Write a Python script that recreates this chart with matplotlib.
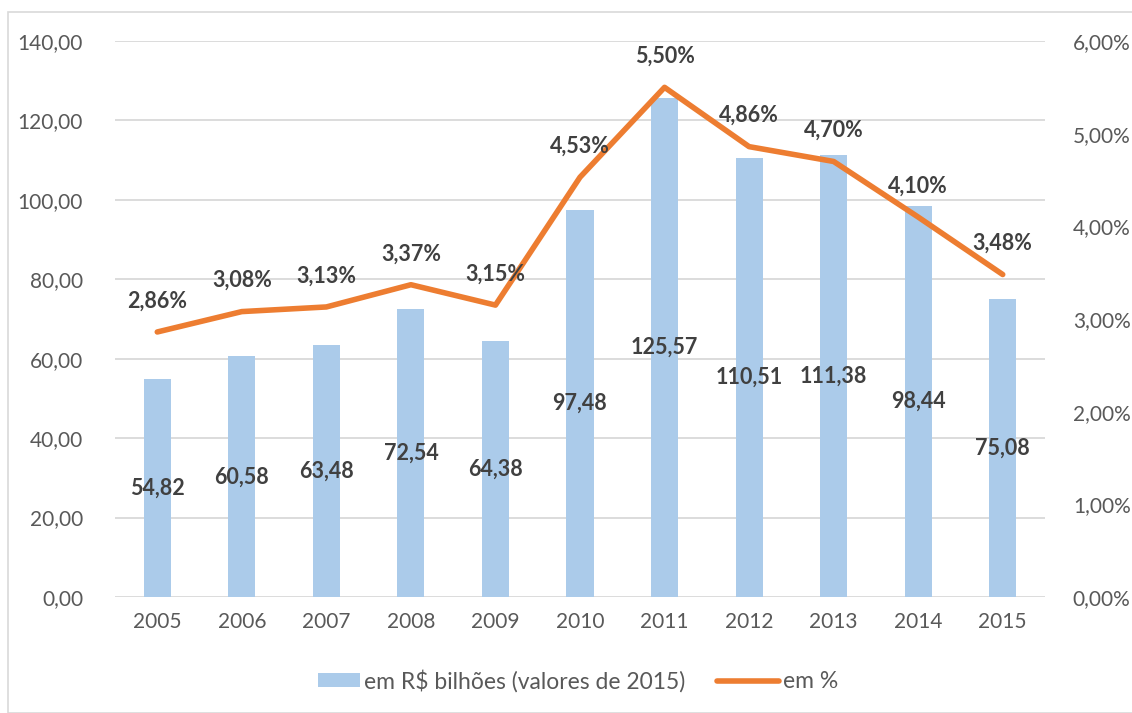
import matplotlib
matplotlib.use("Agg")
import matplotlib.pyplot as plt
from matplotlib.patches import Rectangle
from matplotlib.lines import Line2D
from matplotlib.patches import Patch
from matplotlib.legend_handler import HandlerPatch

years = ["2005", "2006", "2007", "2008", "2009", "2010", "2011", "2012", "2013", "2014", "2015"]
valores_bi = [54.82, 60.58, 63.48, 72.54, 64.38, 97.48, 125.57, 110.51, 111.38, 98.44, 75.08]
percentual = [2.86, 3.08, 3.13, 3.37, 3.15, 4.53, 5.50, 4.86, 4.70, 4.10, 3.48]

left_ticks = [0, 20, 40, 60, 80, 100, 120, 140]
right_ticks = [0, 1, 2, 3, 4, 5, 6]

BAR_C = "#ABCBEA"
LINE_C = "#ED7D31"
TICK_C = "#595959"
LABEL_C = "#404040"
GRID_C = "#D9D9D9"

plt.rcParams["font.family"] = ["Lato", "DejaVu Sans"]

def br(v, dec=2):
    return f"{v:.{dec}f}".replace(".", ",")

fig = plt.figure(figsize=(11.32, 7.13), dpi=100)
fig.patches.append(Rectangle((8 / 1132, 0.0), 1.0, 1 - 12 / 713, transform=fig.transFigure,
                             fill=False, edgecolor="#D9D9D9", linewidth=1.2))

ax = fig.add_axes([115 / 1132, 1 - 597 / 713, (1045 - 115) / 1132, (597 - 41) / 713])
x = list(range(len(years)))

ax.bar(x, valores_bi, width=0.32, color=BAR_C, zorder=2)
ax.set_ylim(0, 140)
ax.set_xlim(-0.5, len(years) - 0.5)
ax.set_yticks(left_ticks)
ax.set_yticklabels([br(v) for v in left_ticks])
ax.set_xticks(x)
ax.set_xticklabels(years)
ax.grid(axis="y", color=GRID_C, linewidth=1.3, zorder=0)
for s in ax.spines.values():
    s.set_visible(False)
ax.tick_params(axis="both", length=0, labelsize=15, colors=TICK_C)
ax.tick_params(axis="x", pad=11)
ax.yaxis.set_tick_params(pad=23)

for xi, v in zip(x, valores_bi):
    ax.text(xi, v / 2, br(v), ha="center", va="center", fontsize=15.5,
            fontweight="bold", color=LABEL_C, zorder=5)

ax2 = ax.twinx()
ax2.plot(x, percentual, color=LINE_C, linewidth=4, solid_capstyle="round",
         solid_joinstyle="round", zorder=4)
ax2.set_ylim(0, 6)
ax2.set_yticks(right_ticks)
ax2.set_yticklabels([br(v) + "%" for v in right_ticks])
for s in ax2.spines.values():
    s.set_visible(False)
ax2.tick_params(axis="y", length=0, labelsize=15, colors=TICK_C, pad=20)

for xi, v in zip(x, percentual):
    ax2.annotate(br(v) + "%", (xi, v), xytext=(0, 31), textcoords="offset pixels",
                 ha="center", va="center", fontsize=15.5, fontweight="bold",
                 color=LABEL_C, zorder=6)


def short_patch(legend, orig_handle, xdescent, ydescent, width, height, fontsize):
    w = width * 0.68
    return Rectangle((width - w - xdescent, -ydescent), w, height)


handles = [Patch(facecolor=BAR_C, edgecolor="none"),
           Line2D([0], [0], color=LINE_C, linewidth=4, solid_capstyle="round")]
fig.legend(handles, ["em R$ bilhões (valores de 2015)", "em %"],
           loc="center", bbox_to_anchor=(568 / 1132, 1 - 681 / 713), ncol=2,
           frameon=False, fontsize=16.5, labelcolor=TICK_C, handlelength=2.7,
           handleheight=0.55, handletextpad=0.17, columnspacing=1.4,
           handler_map={Patch: HandlerPatch(patch_func=short_patch)})

fig.savefig("out.png", dpi=100)
